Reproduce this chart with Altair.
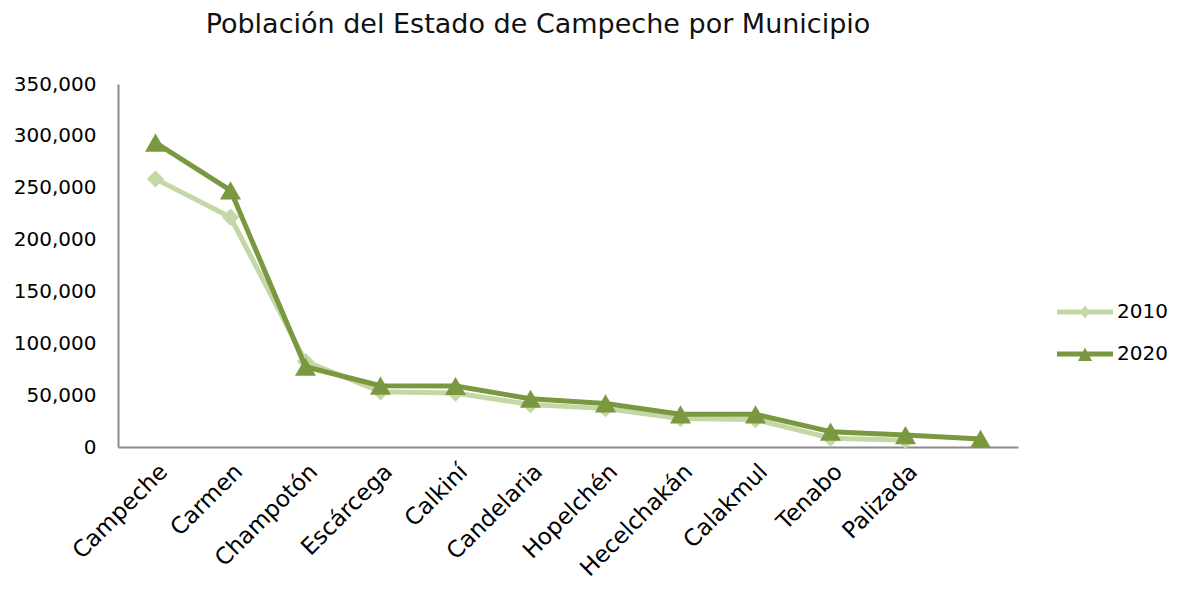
import altair as alt
import pandas as pd

municipios = ["Campeche", "Carmen", "Champotón", "Escárcega", "Calkiní", "Candelaria",
              "Hopelchén", "Hecelchakán", "Calakmul", "Tenabo", "Palizada", " "]
pob_2010 = [258500, 221500, 82500, 53300, 52000, 41000, 37000, 27500, 26500, 8500, 6500, None]
pob_2020 = [293500, 247500, 77400, 59100, 58800, 46500, 42000, 31500, 31500, 14800, 11500, 7800]
anios = ["2010", "2020"]
colores = ["#c4d7a5", "#7a983f"]

rows = []
for m, v in zip(municipios, pob_2010):
    if v is not None:
        rows.append({"municipio": m, "anio": "2010", "poblacion": v})
for m, v in zip(municipios, pob_2020):
    if v is not None:
        rows.append({"municipio": m, "anio": "2020", "poblacion": v})
df = pd.DataFrame(rows)

FONT = "DejaVu Sans"
p10 = "M-2,-0.18L2,-0.18L2,0.18L-2,0.18Z M0,-0.46L0.36,0L0,0.46L-0.36,0Z"
p20 = "M-2,-0.18L2,-0.18L2,0.18L-2,0.18Z M0,-0.46L0.5,0.5L-0.5,0.5Z"

legend = alt.Legend(
    title=None, orient="none", legendX=953, legendY=214, padding=0,
    symbolSize=784, symbolStrokeWidth=0, labelOffset=18, rowPadding=18,
    labelFont=FONT, labelFontSize=20, labelColor="#000000",
    symbolType=alt.ExprRef(expr=f"datum.value === '2010' ? '{p10}' : '{p20}'"),
    symbolFillColor=alt.ExprRef(expr=f"datum.value === '2010' ? '{colores[0]}' : '{colores[1]}'"),
    symbolOpacity=1,
)

base = alt.Chart(df).encode(
    x=alt.X("municipio:N", sort=municipios, title=None,
            axis=alt.Axis(labelAngle=-45, labelFont=FONT, labelFontSize=23, labelColor="#000000",
                          ticks=False, domainColor="#8c8c8c", domainWidth=2, labelPadding=13)),
    y=alt.Y("poblacion:Q", title=None,
            scale=alt.Scale(domain=[0, 350000], nice=False),
            axis=alt.Axis(values=list(range(0, 350001, 50000)), labelExpr="format(datum.value, ',')",
                          grid=False, ticks=False,
                          labelFont=FONT, labelFontSize=20, labelColor="#000000",
                          domainColor="#8c8c8c", domainWidth=2, labelPadding=22)),
    color=alt.Color("anio:N", scale=alt.Scale(domain=anios, range=colores), legend=legend),
)

layers = []
for a, shape, size in [("2010", "diamond", 300), ("2020", "triangle-up", 440)]:
    sub = base.transform_filter(alt.datum.anio == a)
    layers.append(sub.mark_line(strokeWidth=5, strokeJoin="round", strokeCap="round"))
    layers.append(sub.mark_point(shape=shape, filled=True, size=size, opacity=1))

chart = alt.layer(*layers).properties(
    width=900, height=363,
    title=alt.TitleParams("Población del Estado de Campeche por Municipio", font=FONT, fontSize=27,
                          fontWeight="normal", color="#111111", dx=-30, offset=35, anchor="middle"),
    autosize=alt.AutoSizeParams(type="none"),
    padding={"left": 110, "top": 76, "right": 150, "bottom": 137},
).configure_view(stroke=None)

chart.save("out.html", embed_options={"renderer": "svg", "actions": False})
